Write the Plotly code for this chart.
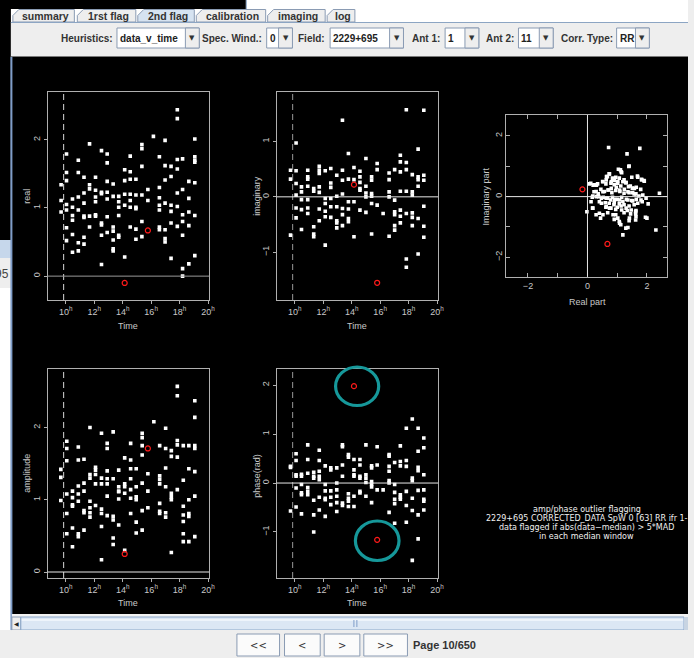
import plotly.graph_objects as go

W, H = 694, 658

# ---------------------------------------------------------------- data
# visibilities of baseline 1-11 versus time (hours)
real_pts = [
    (9.67, 1.34), (9.67, 1.11), (9.67, 0.94),
    (10.05, 1.79), (10.05, 1.52), (10.05, 1.40), (10.05, 1.05), (10.05, 0.97), (10.05, 0.71), (10.05, 0.52),
    (10.47, 1.13), (10.47, 1.01), (10.47, 0.89), (10.47, 0.82), (10.47, 0.61), (10.47, 0.35),
    (10.88, 1.70), (10.88, 1.52), (10.88, 1.16), (10.88, 0.97), (10.88, 0.49), (10.88, 0.37),
    (11.28, 1.45), (11.28, 1.22), (11.28, 1.07), (11.28, 0.88), (11.28, 0.86), (11.28, 0.57), (11.28, 0.47),
    (11.67, 1.94), (11.67, 1.34), (11.67, 1.28), (11.67, 0.88), (11.67, 0.72),
    (12.09, 1.45), (12.09, 1.26), (12.09, 1.16), (12.09, 1.09), (12.09, 0.90), (12.09, 0.88),
    (12.51, 1.84), (12.51, 1.23), (12.51, 1.21), (12.51, 0.78), (12.51, 0.75), (12.51, 0.60), (12.51, 0.17),
    (12.91, 1.79), (12.91, 1.66), (12.91, 1.39), (12.91, 1.23), (12.91, 1.13), (12.91, 0.87), (12.91, 0.64),
    (13.33, 1.35), (13.33, 1.17), (13.33, 0.72), (13.33, 0.66), (13.33, 0.53), (13.33, 0.40), (13.33, 0.37),
    (13.72, 1.17), (13.72, 1.09), (13.72, 1.01), (13.72, 0.89), (13.72, 0.60), (13.72, 0.57),
    (14.14, 1.56), (14.14, 1.40), (14.14, 1.20), (14.14, 1.04), (14.14, 0.28),
    (14.53, 1.76), (14.53, 1.53), (14.53, 1.42), (14.53, 1.20), (14.53, 1.11), (14.53, 1.01), (14.53, 0.72),
    (14.93, 1.42), (14.93, 1.19), (14.93, 1.01), (14.93, 0.99), (14.93, 0.69), (14.93, 0.54),
    (15.35, 1.93), (15.35, 1.87), (15.35, 1.61), (15.35, 1.19), (15.35, 0.80), (15.35, 0.58),
    (15.77, 1.27), (15.77, 1.11),
    (16.16, 2.05),
    (16.58, 1.75), (16.58, 1.30), (16.58, 1.15), (16.58, 1.04), (16.58, 0.97), (16.58, 0.72), (16.58, 0.68),
    (16.98, 1.99), (16.98, 1.62), (16.98, 1.41), (16.98, 1.07), (16.98, 0.68), (16.98, 0.55), (16.98, 0.50),
    (17.40, 1.61), (17.40, 1.46), (17.40, 1.04), (17.40, 0.95), (17.40, 0.78), (17.40, 0.26),
    (17.84, 2.44), (17.84, 2.31), (17.84, 1.71), (17.84, 1.57), (17.84, 1.22), (17.84, 1.02), (17.84, 0.73),
    (18.21, 1.72), (18.21, 1.27), (18.21, 0.90), (18.21, 0.80), (18.21, 0.60), (18.21, 0.11), (18.21, 0.00),
    (18.65, 1.39), (18.65, 1.14), (18.65, 0.94), (18.65, 0.74), (18.65, 0.18),
    (19.07, 2.01), (19.07, 1.75), (19.07, 1.70), (19.07, 1.67), (19.07, 1.37), (19.07, 0.89), (19.07, 0.30),
]
real_flagged = [(14.14, -0.10), (15.77, 0.67)]

imag_pts = [
    (9.70, 0.48), (9.70, 0.32), (9.70, -0.69),
    (10.09, 0.97), (10.09, 0.47), (10.09, 0.24), (10.09, 0.03), (10.09, -0.20), (10.09, -0.38),
    (10.47, 0.18), (10.47, 0.09), (10.47, -0.05), (10.47, -0.23), (10.47, -0.59),
    (10.91, 0.48), (10.91, 0.36), (10.91, 0.32), (10.91, 0.19), (10.91, -0.05), (10.91, -0.20), (10.91, -0.30),
    (11.33, 0.15), (11.33, 0.10), (11.33, -0.54), (11.33, -0.67), (11.33, -0.72),
    (11.72, 0.55), (11.72, 0.48), (11.72, 0.42), (11.72, 0.18), (11.72, 0.08), (11.72, -0.22), (11.72, -0.43),
    (12.14, 0.47), (12.14, -0.03), (12.14, -0.12), (12.14, -0.26), (12.14, -0.36), (12.14, -0.87),
    (12.53, 0.51), (12.53, 0.25), (12.53, 0.17), (12.53, -0.03), (12.53, -0.18), (12.53, -0.37),
    (12.95, 0.39), (12.95, 0.01), (12.95, -0.18), (12.95, -0.43), (12.95, -0.47), (12.95, -0.56),
    (13.35, 1.38), (13.35, 0.48), (13.35, 0.30), (13.35, 0.05), (13.35, -0.21), (13.35, -0.32), (13.35, -0.52),
    (13.77, 0.78), (13.77, 0.32), (13.77, -0.09), (13.77, -0.22), (13.77, -0.39), (13.77, -0.45),
    (14.16, 0.53), (14.16, 0.31), (14.16, -0.09), (14.16, -0.72),
    (14.58, 0.46), (14.58, 0.36), (14.58, 0.26), (14.58, 0.15), (14.58, 0.12), (14.58, -0.24),
    (15.00, 0.69), (15.00, 0.19), (15.00, 0.07), (15.00, 0.00), (15.00, -0.28),
    (15.40, 0.36), (15.40, 0.30), (15.40, 0.06), (15.40, 0.01), (15.40, -0.12), (15.40, -0.67),
    (15.79, 0.60), (15.79, 0.49), (15.79, -0.15),
    (16.21, -0.30),
    (16.63, 0.43), (16.63, 0.31), (16.63, 0.09), (16.63, 0.00), (16.63, -0.71),
    (17.02, 0.49), (17.02, -0.06), (17.02, -0.27), (17.02, -0.32), (17.02, -0.52), (17.02, -0.60),
    (17.42, 0.75), (17.42, 0.63), (17.42, 0.45), (17.42, 0.10), (17.42, -0.24), (17.42, -0.35), (17.42, -0.47),
    (17.84, 1.57), (17.84, 0.62), (17.84, 0.49), (17.84, 0.10), (17.84, -0.30), (17.84, -1.12), (17.84, -1.27),
    (18.26, 0.40), (18.26, 0.09), (18.26, 0.03), (18.26, -0.29), (18.26, -0.37), (18.26, -0.52),
    (18.67, 0.86), (18.67, 0.36), (18.67, 0.31), (18.67, 0.19), (18.67, -0.39), (18.67, -1.03),
    (19.07, 1.56), (19.07, 0.39), (19.07, 0.30), (19.07, -0.17), (19.07, -0.53), (19.07, -0.73),
]
imag_flagged = [(14.16, 0.22), (15.79, -1.55)]

amp_pts = [
    (9.65, 1.42), (9.65, 1.31), (9.65, 0.99),
    (10.07, 1.81), (10.07, 1.71), (10.07, 1.54), (10.07, 1.08), (10.07, 0.81), (10.07, 0.53),
    (10.47, 1.12), (10.47, 1.03), (10.47, 0.93), (10.47, 0.91), (10.47, 0.61), (10.47, 0.35),
    (10.88, 1.73), (10.88, 1.55), (10.88, 1.19), (10.88, 1.08), (10.88, 0.98), (10.88, 0.53), (10.88, 0.49),
    (11.28, 1.56), (11.28, 1.23), (11.28, 1.12), (11.28, 0.85), (11.28, 0.82), (11.28, 0.58),
    (11.70, 2.00), (11.70, 1.35), (11.70, 1.30), (11.70, 0.98), (11.70, 0.89), (11.70, 0.82), (11.70, 0.76),
    (12.09, 1.45), (12.09, 1.41), (12.09, 1.35), (12.09, 1.22), (12.09, 0.92),
    (12.51, 1.92), (12.51, 1.30), (12.51, 1.22), (12.51, 0.87), (12.51, 0.81), (12.51, 0.63), (12.51, 0.17),
    (12.91, 1.78), (12.91, 1.71), (12.91, 1.40), (12.91, 1.29), (12.91, 1.22), (12.91, 1.05), (12.91, 0.78),
    (13.33, 1.94), (13.33, 1.29), (13.33, 0.77), (13.33, 0.72), (13.33, 0.47), (13.33, 0.38),
    (13.72, 1.41), (13.72, 1.18), (13.72, 1.12), (13.72, 1.11), (13.72, 1.01), (13.72, 0.65),
    (14.14, 1.58), (14.14, 1.22), (14.14, 1.18), (14.14, 1.09), (14.14, 0.30),
    (14.56, 1.78), (14.56, 1.55), (14.56, 1.43), (14.56, 1.29), (14.56, 1.14), (14.56, 1.02), (14.56, 0.81),
    (14.95, 1.43), (14.95, 1.18), (14.95, 1.04), (14.95, 1.00), (14.95, 0.69), (14.95, 0.54),
    (15.37, 1.92), (15.37, 1.86), (15.37, 1.75), (15.37, 1.62), (15.37, 1.23), (15.37, 0.85), (15.37, 0.58),
    (15.77, 1.36), (15.77, 1.12), (15.77, 0.89),
    (16.19, 2.08),
    (16.60, 1.75), (16.60, 1.33), (16.60, 1.28), (16.60, 1.22), (16.60, 0.95), (16.60, 0.84), (16.60, 0.81),
    (17.02, 1.99), (17.02, 1.71), (17.02, 1.44), (17.02, 1.18), (17.02, 0.82), (17.02, 0.76),
    (17.42, 1.68), (17.42, 1.60), (17.42, 1.09), (17.42, 1.04), (17.42, 1.00), (17.42, 0.27),
    (17.84, 2.57), (17.84, 2.44), (17.84, 1.82), (17.84, 1.76), (17.84, 1.59), (17.84, 1.14),
    (18.26, 1.75), (18.26, 1.27), (18.26, 0.91), (18.26, 0.79), (18.26, 0.70), (18.26, 0.53), (18.26, 0.42),
    (18.65, 1.75), (18.65, 1.43), (18.65, 1.00), (18.65, 0.81), (18.65, 0.77), (18.65, 0.42),
    (19.07, 2.37), (19.07, 2.14), (19.07, 1.75), (19.07, 1.71), (19.07, 1.39), (19.07, 1.05), (19.07, 0.49),
]
amp_flagged = [(14.14, 0.25), (15.77, 1.71)]

phase_pts = [
    (9.70, 0.34), (9.70, 0.32), (9.70, -0.57),
    (10.09, 0.60), (10.09, 0.46), (10.09, 0.17), (10.09, 0.14), (10.09, -0.10), (10.09, -0.49),
    (10.47, 0.18), (10.47, 0.14), (10.47, -0.03), (10.47, -0.20), (10.47, -0.24), (10.47, -0.63),
    (10.91, 0.78), (10.91, 0.48), (10.91, 0.20), (10.91, -0.09), (10.91, -0.17), (10.91, -0.24),
    (11.33, 0.22), (11.33, 0.14), (11.33, 0.10), (11.33, -0.35), (11.33, -0.65), (11.33, -1.00),
    (11.72, 0.67), (11.72, 0.46), (11.72, 0.24), (11.72, 0.14), (11.72, 0.07), (11.72, -0.29), (11.72, -0.55),
    (12.14, 0.35), (12.14, -0.03), (12.14, -0.16), (12.14, -0.31), (12.14, -0.34), (12.14, -0.68),
    (12.53, 0.31), (12.53, 0.27), (12.53, -0.16), (12.53, -0.29), (12.53, -0.44),
    (12.95, 0.31), (12.95, 0.00), (12.95, -0.14), (12.95, -0.27), (12.95, -0.40), (12.95, -0.58),
    (13.35, 0.78), (13.35, 0.74), (13.35, 0.37), (13.35, 0.14), (13.35, -0.41), (13.35, -0.46),
    (13.77, 0.58), (13.77, 0.53), (13.77, -0.22), (13.77, -0.31), (13.77, -0.37), (13.77, -0.48),
    (14.16, 0.48), (14.16, 0.27), (14.16, 0.17), (14.16, 0.14), (14.16, -0.27), (14.16, -0.48),
    (14.58, 0.48), (14.58, 0.37), (14.58, 0.14), (14.58, 0.10), (14.58, -0.17), (14.58, -0.20),
    (15.00, 0.78), (15.00, 0.17), (15.00, 0.10), (15.00, 0.01), (15.00, -0.27),
    (15.40, 0.35), (15.40, 0.31), (15.40, 0.03), (15.40, -0.03), (15.40, -0.08), (15.40, -0.40),
    (15.79, 0.74), (15.79, 0.37), (15.79, -0.14),
    (16.21, -0.14),
    (16.63, 0.58), (16.63, 0.55), (16.63, 0.34), (16.63, 0.24), (16.63, 0.05), (16.63, 0.00), (16.63, -0.60),
    (17.02, 0.42), (17.02, -0.03), (17.02, -0.19), (17.02, -0.33), (17.02, -0.42), (17.02, -0.82),
    (17.42, 0.76), (17.42, 0.44), (17.42, 0.35), (17.42, -0.24), (17.42, -0.29), (17.42, -0.33),
    (17.84, 1.12), (17.84, 0.46), (17.84, 0.34), (17.84, -0.17), (17.84, -0.46), (17.84, -0.80),
    (18.26, 1.31), (18.26, 0.10), (18.26, 0.05), (18.26, -0.31), (18.26, -0.56), (18.26, -1.58),
    (18.67, 1.12), (18.67, 0.65), (18.67, 0.32), (18.67, 0.25), (18.67, -0.15), (18.67, -0.65), (18.67, -1.14),
    (19.07, 0.92), (19.07, 0.72), (19.07, 0.17), (19.07, -0.14), (19.07, -0.33), (19.07, -0.37), (19.07, -0.55),
]
phase_flagged = [(14.16, 1.98), (15.79, -1.16)]

# same visibilities in the complex plane (real part, imaginary part)
complex_pts = [
    (1.40, 1.01), (1.04, 0.90), (1.15, 0.79), (0.73, 0.75), (0.64, 0.66), (1.68, 0.68),
    (1.82, 0.57), (1.90, 0.53), (1.49, 0.64), (0.84, 0.61), (0.95, 0.64), (1.07, 0.61),
    (1.23, 0.55), (1.29, 0.46), (0.07, 0.42), (0.23, 0.39), (0.34, 0.42), (0.51, 0.50),
    (0.62, 0.42), (0.79, 0.44), (0.90, 0.39), (1.01, 0.44), (1.12, 0.35), (1.38, 0.33),
    (1.51, 0.28), (1.64, 0.31), (1.79, 0.24), (2.42, 0.11), (0.29, 0.17), (0.45, 0.24),
    (0.57, 0.17), (0.71, 0.22), (0.82, 0.13), (0.95, 0.20), (1.09, 0.17), (1.23, 0.11),
    (1.40, 0.13), (1.57, 0.09), (1.73, 0.02), (0.18, 0.02), (0.38, 0.00), (0.53, -0.02),
    (0.68, -0.05), (0.84, -0.02), (1.01, -0.09), (1.15, -0.02), (1.31, -0.09), (1.49, -0.13),
    (1.64, -0.09), (1.84, -0.17), (2.04, -0.24), (0.40, -0.17), (0.60, -0.20), (0.73, -0.22),
    (0.90, -0.20), (1.07, -0.24), (1.23, -0.27), (1.40, -0.31), (1.57, -0.27), (0.12, -0.17),
    (0.62, -0.35), (0.79, -0.38), (0.95, -0.42), (1.15, -0.44), (1.34, -0.46), (1.62, -0.50),
    (-0.02, -0.50), (0.18, -0.38), (0.40, -0.55), (0.68, -0.53), (0.95, -0.60), (1.23, -0.53),
    (1.45, -0.57), (1.62, -0.57), (1.95, -0.68), (0.90, -0.75), (1.07, -0.82), (1.40, -0.79),
    (1.62, -0.77), (1.29, -1.04), (0.29, -0.60), (1.12, -0.93),
    (0.71, 1.62), (1.33, 1.41), (1.76, 1.59), (2.30, -1.10), (1.19, -1.26), (1.36, -1.02),
    (0.44, -0.71), (0.52, -0.60), (0.86, -0.60), (1.02, -0.71), (1.08, -0.88), (1.41, -0.71),
    (2.00, -0.71), (0.11, 0.44), (0.19, 0.38), (0.16, -0.02), (0.22, 0.16), (0.36, 0.09),
    (0.17, -0.38), (0.52, 0.49), (0.63, 0.55), (0.80, 0.49), (0.91, 0.53), (1.02, 0.49),
    (1.19, 0.49), (1.30, 0.46), (1.44, 0.35), (1.58, 0.27), (0.52, 0.16), (0.69, 0.22),
    (0.80, 0.27), (0.97, 0.31), (1.08, 0.22), (1.24, 0.24), (1.36, 0.16), (1.52, 0.13),
    (1.63, 0.09), (1.86, 0.05), (1.97, -0.05), (0.30, 0.00), (0.47, -0.05), (0.63, -0.05),
    (0.78, -0.11), (0.91, -0.09), (1.08, -0.11), (1.19, -0.16), (1.36, -0.11), (1.52, -0.14),
    (1.69, -0.22), (1.80, -0.11), (0.47, -0.22), (0.63, -0.33), (0.74, -0.38), (0.89, -0.27),
    (1.00, -0.35), (1.13, -0.31), (1.30, -0.38), (1.47, -0.44), (1.63, -0.46), (1.63, -0.66),
    (1.11, 0.88), (1.13, 0.82), (0.74, 0.75), (0.67, 0.66), (1.69, 0.64), (1.82, 0.55),
    (1.91, 0.51), (0.30, 0.38), (1.39, 0.99),
]
complex_flagged = [(-0.17, 0.24), (0.67, -1.56)]

time_ticks = [10, 12, 14, 16, 18, 20]
time_ticktext = [f"{h}<sup>h</sup>" for h in time_ticks]
window_start = 9.85          # start of the first median window (hours)

toolbar_items = [
    ("Heuristics:", "data_v_time"), ("Spec. Wind.:", "0"), ("Field:", "2229+695"),
    ("Ant 1:", "1"), ("Ant 2:", "11"), ("Corr. Type:", "RR"),
]
tab_names = ["summary", "1rst flag", "2nd flag", "calibration", "imaging", "log"]
nav_buttons = ["<<", "<", ">", ">>"]
page_label = "Page 10/650"
caption_lines = [
    "amp/phase outlier flagging",
    "2229+695 CORRECTED_DATA SpW 0 [63] RR ifr 1-",
    "data flagged if abs(data\u2212median) > 5*MAD",
    "in each median window",
]

# ---------------------------------------------------------------- helpers
def X(p):
    return p / W


def Y(p):
    return 1 - p / H


GUI_FONT = "Liberation Sans, Roboto, sans-serif"
PLOT_FONT = "Liberation Sans, DejaVu Sans, sans-serif"
CAPTION_FONT = "DejaVu Sans, sans-serif"
TICK_COLOR = "#c8c8c8"
FRAME_COLOR = "#b0b0b0"

shapes = []
annotations = []


def rect(x0, y0, x1, y1, fill, line=None, lw=1, layer="below"):
    shapes.append(dict(type="rect", xref="paper", yref="paper",
                       x0=X(x0), x1=X(x1), y0=Y(y1), y1=Y(y0),
                       fillcolor=fill, layer=layer,
                       line=dict(color=line or fill, width=lw if line else 0)))


def hline(x0, x1, y, color, lw=1, layer="below"):
    shapes.append(dict(type="line", xref="paper", yref="paper",
                       x0=X(x0), x1=X(x1), y0=Y(y), y1=Y(y),
                       line=dict(color=color, width=lw), layer=layer))


def vline(x, y0, y1, color, lw=1, layer="below"):
    shapes.append(dict(type="line", xref="paper", yref="paper",
                       x0=X(x), x1=X(x), y0=Y(y0), y1=Y(y1),
                       line=dict(color=color, width=lw), layer=layer))


def text(x, y, s, size=11, color="#222222", family=GUI_FONT, xanchor="center",
         angle=0, bold=False):
    annotations.append(dict(xref="paper", yref="paper", x=X(x), y=Y(y),
                            text=f"<b>{s}</b>" if bold else s, showarrow=False,
                            xanchor=xanchor, yanchor="middle", textangle=angle,
                            font=dict(size=size, color=color, family=family)))


# ---------------------------------------------------------------- window chrome
rect(11, 0, 694, 22, "#ffffff")
rect(0, 0, 248, 9, "#000000")
vline(248.5, 0, 9, "#8ca5c3")
rect(0, 0, 11, 240, "#000000")

# tabs
tab_x = [(13, 75), (78, 137), (139, 196), (198, 268), (270, 328), (330, 358)]
for (x0, x1), name in zip(tab_x, tab_names):
    sel = name == "2nd flag"
    y0, y1 = 9.5, 22
    path = (f"M{X(x0)},{Y(y1)} L{X(x0)},{Y(y0 + 6)} L{X(x0 + 6)},{Y(y0)} "
            f"L{X(x1)},{Y(y0)} L{X(x1)},{Y(y1)} Z")
    shapes.append(dict(type="path", xref="paper", yref="paper", path=path,
                       fillcolor="#d6e3f1" if sel else "#eeeeee", layer="below",
                       line=dict(color="#8a9bb3", width=1)))
    text((x0 + x1) / 2 + 2, 16, name, size=10.5, color="#333333", bold=True)

# toolbar
rect(11, 22, 694, 53, "#eeeeee")
hline(11, 694, 22.5, "#8ca5c3")
rect(11, 53, 694, 57, "#eeeeee")
hline(11, 694, 56.5, "#7a7a7a")

label_right = [116, 266, 330, 446, 520, 620]
combo_span = [(118, 201), (269, 295), (333, 407), (449, 483), (523, 558), (622, 655)]
for (lab, val), lr, (c0, c1) in zip(toolbar_items, label_right, combo_span):
    text(lr, 38, lab, size=10, color="#333333", xanchor="right", bold=True)
    rect(c0, 28, c1, 48, "#ffffff", line="#8a9bb3")
    arrow_w = 14
    rect(c1 - arrow_w, 28, c1, 48, "#eeeeee", line="#8a9bb3")
    text(c1 - arrow_w / 2, 38, "\u25bc", size=7, color="#333333",
         family="DejaVu Sans")
    text(c0 + 1, 38.5, val, size=10, color="#222222", xanchor="left", bold=True)

# left edge: part of another window
rect(0, 240, 11, 258, "#c6d7eb")
rect(0, 258, 11, 288, "#eeeeee")
rect(0, 288, 11, 630, "#ffffff")
text(11, 274, "95", size=12, color="#444444", xanchor="right", family=GUI_FONT)

# dark plotting canvas
rect(12, 57, 694, 614, "#000000")
vline(11.5, 57, 630, "#7f9dc9", lw=2)

# horizontal scrollbar
rect(12, 614, 694, 617, "#f2f2f2")
rect(12, 617, 21, 630, "#eeeeee", line="#8a9bb3")
text(16.5, 623.5, "\u25c0", size=6, color="#222222", family="DejaVu Sans")
rect(21, 617, 690, 630, "#dce7f4", line="#8aa6c9")
hline(22, 689, 620, "#eef4fb", lw=2)
vline(357, 620, 627, "#7f9dc9")
vline(360, 620, 627, "#7f9dc9")
rect(690, 617, 694, 630, "#c8d4e2")
rect(12, 630, 694, 658, "#eeeeee")

# page navigation
btn_x = [(239, 282), (287, 323), (327, 363), (367, 411)]
for (x0, x1), lab in zip(btn_x, nav_buttons):
    rect(x0, 634, x1, 656, "#fbfbfb", line="#8a9bb3")
    text((x0 + x1) / 2, 645, lab, size=10, color="#333333", family="DejaVu Sans")
text(415, 645, page_label, size=11, color="#333333", xanchor="left", bold=True)

# ---------------------------------------------------------------- plot panels
panels = [
    dict(pts=real_pts, flag=real_flagged, box=(48, 92, 211, 300),
         yrange=(-0.35, 2.70), yt=[0, 1, 2], zero="#9a9a9a", dash="#d8d8d8",
         ylab="real", ylab_xy=(27, 196), xlab_xy=(129.5, 326)),
    dict(pts=imag_pts, flag=imag_flagged, box=(279, 92, 442, 300),
         yrange=(-1.86, 1.89), yt=[-1, 0, 1], zero="#e8e8e8", dash="#9a9a9a",
         ylab="imaginary", ylab_xy=(259, 196), xlab_xy=(360.5, 326)),
    dict(pts=amp_pts, flag=amp_flagged, box=(48, 369, 211, 578),
         yrange=(-0.083, 2.81), yt=[0, 1, 2], zero="#e8e8e8", dash="#d8d8d8",
         ylab="amplitude", ylab_xy=(27, 473), xlab_xy=(129.5, 603)),
    dict(pts=phase_pts, flag=phase_flagged, box=(279, 369, 442, 578),
         yrange=(-1.94, 2.33), yt=[-1, 0, 1, 2], zero="#e8e8e8", dash="#9a9a9a",
         ylab="phase(rad)", ylab_xy=(259, 476), xlab_xy=(360.5, 603)),
]


def fmt(v):
    return f"\u2212{abs(v)}" if v < 0 else f"{v}"


fig = go.Figure()
layout_axes = {}

for i, p in enumerate(panels, start=1):
    xs = "" if i == 1 else str(i)
    x0, y0, x1, y1 = p["box"]
    t, v = zip(*p["pts"])
    ft, fv = zip(*p["flag"])
    fig.add_trace(go.Scatter(x=t, y=v, mode="markers", xaxis="x" + xs, yaxis="y" + xs,
                             marker=dict(symbol="square", size=3.6, color="white",
                                         line=dict(width=0)),
                             hoverinfo="skip", showlegend=False))
    fig.add_trace(go.Scatter(x=ft, y=fv, mode="markers", xaxis="x" + xs, yaxis="y" + xs,
                             marker=dict(symbol="circle-open", size=5, color="#ff1a1a",
                                         line=dict(width=1.2)),
                             hoverinfo="skip", showlegend=False))
    layout_axes["xaxis" + xs] = dict(
        domain=[X(x0), X(x1)], range=[8.72, 20.08], anchor="y" + xs,
        tickvals=time_ticks, ticktext=time_ticktext, showgrid=False, zeroline=False,
        showline=True, mirror=True, linecolor=FRAME_COLOR, linewidth=1,
        ticks="outside", ticklen=3, tickcolor=FRAME_COLOR,
        tickfont=dict(size=9, color=TICK_COLOR, family=PLOT_FONT))
    layout_axes["yaxis" + xs] = dict(
        domain=[Y(y1), Y(y0)], range=list(p["yrange"]), anchor="x" + xs,
        tickvals=p["yt"], ticktext=[fmt(k) for k in p["yt"]], tickangle=-90,
        showgrid=False, zeroline=False,
        showline=True, mirror=True, linecolor=FRAME_COLOR, linewidth=1,
        ticks="outside", ticklen=3, tickcolor=FRAME_COLOR,
        tickfont=dict(size=9, color=TICK_COLOR, family=PLOT_FONT))
    # first median-window marker and zero level
    shapes.append(dict(type="line", xref="x" + xs, yref=f"y{xs} domain",
                       x0=window_start, x1=window_start, y0=0, y1=1,
                       line=dict(color=p["dash"], width=1, dash="6px,4px")))
    shapes.append(dict(type="line", xref=f"x{xs} domain", yref="y" + xs,
                       x0=0, x1=1, y0=0, y1=0, line=dict(color=p["zero"], width=1)))
    text(p["ylab_xy"][0], p["ylab_xy"][1], p["ylab"], size=9, color=TICK_COLOR,
         family=PLOT_FONT, angle=-90)
    text(p["xlab_xy"][0], p["xlab_xy"][1], "Time", size=9, color=TICK_COLOR,
         family=PLOT_FONT)

# complex plane
cx0, cy0, cx1, cy1 = 510.7, 115, 673.3, 276.7
re, im = zip(*complex_pts)
fre, fim = zip(*complex_flagged)
fig.add_trace(go.Scatter(x=re, y=im, mode="markers", xaxis="x5", yaxis="y5",
                         marker=dict(symbol="square", size=3.6, color="white",
                                     line=dict(width=0)),
                         hoverinfo="skip", showlegend=False))
fig.add_trace(go.Scatter(x=fre, y=fim, mode="markers", xaxis="x5", yaxis="y5",
                         marker=dict(symbol="circle-open", size=5, color="#ff1a1a",
                                     line=dict(width=1.2)),
                         hoverinfo="skip", showlegend=False))
plane_ticks = [-2, 0, 2]
for ax, dom, rng in (("xaxis5", [X(cx0), X(cx1)], [-2.73, 2.69]),
                     ("yaxis5", [Y(cy1), Y(cy0)], [-2.64, 2.69])):
    layout_axes[ax] = dict(
        domain=dom, range=rng, anchor="y5" if ax[0] == "x" else "x5",
        tickvals=plane_ticks, ticktext=[fmt(k) for k in plane_ticks],
        showgrid=False, zeroline=False,
        showline=True, mirror="allticks", linecolor=FRAME_COLOR, linewidth=1,
        ticks="inside", ticklen=4, tickcolor=FRAME_COLOR,
        minor=dict(dtick=1, tick0=0, ticks="inside", ticklen=4, tickcolor=FRAME_COLOR),
        tickfont=dict(size=9, color=TICK_COLOR, family=PLOT_FONT))
layout_axes["yaxis5"]["tickangle"] = -90
shapes.append(dict(type="line", xref="x5 domain", yref="y5", x0=0, x1=1, y0=0, y1=0,
                   line=dict(color="#e8e8e8", width=1)))
shapes.append(dict(type="line", xref="x5", yref="y5 domain", x0=0, x1=0, y0=0, y1=1,
                   line=dict(color="#e8e8e8", width=1)))
text(592.7, 302, "Real part", size=9, color=TICK_COLOR, family=PLOT_FONT)
text(490, 196.7, "Imaginary part", size=9, color=TICK_COLOR, family=PLOT_FONT, angle=-90)

# caption of the flagging run
for k, line in enumerate(caption_lines):
    text(592, 509 + k * 9, line, size=8, color="#f0f0f0", family=CAPTION_FONT)

# highlight rings around the two flagged phase points
for (ex0, ey0, ex1, ey1) in ((338.5, 367, 382, 405.5), (358.5, 521, 402.5, 560.5)):
    shapes.append(dict(type="circle", xref="paper", yref="paper",
                       x0=X(ex0), x1=X(ex1), y0=Y(ey1), y1=Y(ey0),
                       line=dict(color="#16989a", width=3.2), layer="above"))

fig.update_layout(
    width=W, height=H, margin=dict(l=0, r=0, t=0, b=0),
    paper_bgcolor="#eeeeee", plot_bgcolor="#000000",
    shapes=shapes, annotations=annotations, **layout_axes,
)

fig.write_html("out.html")
